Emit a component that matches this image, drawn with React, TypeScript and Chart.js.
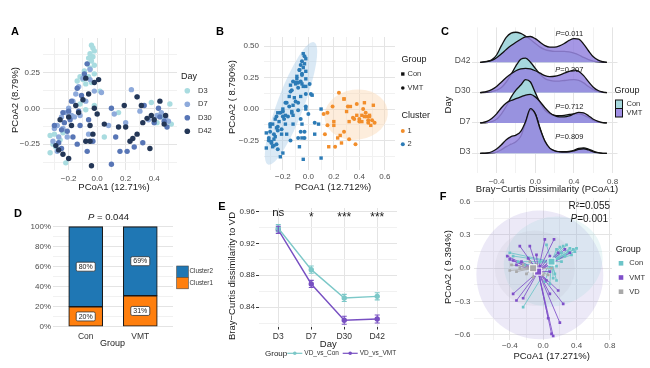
import React, { useEffect, useRef } from 'react';
import { Chart, registerables } from 'chart.js';

Chart.register(...registerables);

const FONT = '"Liberation Sans", Arial, Helvetica, sans-serif';
const INK = '#1A1A1A';
const TICKC = '#4D4D4D';

type Pt = [number, number];

// ================= Panel A / B : PCoA samples by day =================
const A_DAYS = ['D3', 'D7', 'D30', 'D42'];
const A_COLORS = ['#A9DCE0', '#8EAADB', '#5876B6', '#243757'];
const A_D3: Pt[] = [[-0.04,0.44],[-0.03,0.42],[-0.02,0.40],[-0.05,0.38],[-0.03,0.36],[-0.06,0.35],[-0.04,0.33],[-0.07,0.31],[-0.02,0.30],[-0.05,0.28],[-0.09,0.26],[-0.12,0.22],[-0.10,0.20],[-0.06,0.22],[-0.04,0.18],[-0.08,0.17],[-0.02,0.24],[0.02,0.12],[-0.14,0.19],[-0.30,-0.18],[-0.33,-0.19],[-0.31,-0.25],[-0.33,-0.31],[-0.29,-0.27],[-0.22,-0.38],[-0.24,-0.17],[-0.26,-0.22],[0.38,0.04],[0.51,0.03],[0.52,-0.11],[0.46,-0.06],[0.15,-0.03],[0.42,-0.10],[-0.08,-0.01],[0.05,-0.20],[-0.02,0.02],[-0.12,0.03]];
const A_D7: Pt[] = [[-0.05,0.27],[-0.10,0.21],[-0.13,0.15],[-0.15,0.10],[-0.17,0.05],[-0.20,0.00],[-0.22,-0.03],[-0.18,-0.05],[-0.25,-0.06],[-0.28,-0.12],[-0.24,-0.14],[-0.30,-0.14],[-0.27,-0.20],[-0.21,-0.20],[-0.31,-0.23],[-0.28,-0.30],[-0.02,0.12],[0.03,0.11],[-0.08,0.05],[-0.12,-0.05],[0.24,0.13],[0.28,0.08],[0.45,-0.03],[0.48,-0.06],[0.50,-0.09],[0.42,-0.05],[0.36,-0.08],[0.30,-0.02],[0.12,-0.04],[0.20,-0.10],[-0.06,-0.18],[0.08,-0.12],[-0.16,-0.06],[-0.05,0.20]];
const A_D30: Pt[] = [[-0.07,0.31],[-0.09,0.24],[-0.14,0.14],[-0.11,0.09],[-0.18,0.05],[-0.13,-0.02],[-0.20,-0.02],[-0.24,-0.03],[-0.19,-0.08],[-0.23,-0.10],[-0.30,-0.12],[-0.25,-0.15],[-0.21,-0.16],[-0.27,-0.24],[-0.25,-0.28],[-0.17,-0.20],[-0.14,-0.25],[-0.12,-0.12],[-0.06,-0.08],[0.10,0.00],[0.13,-0.20],[0.16,-0.30],[0.21,-0.30],[0.26,-0.27],[0.32,-0.24],[0.33,0.02],[0.40,-0.10],[0.44,-0.06],[0.47,-0.09],[0.49,-0.13],[0.43,0.00],[-0.07,-0.30],[-0.03,-0.23],[0.10,-0.39]];
const A_D42: Pt[] = [[-0.08,0.21],[-0.02,0.18],[0.01,0.20],[-0.06,0.10],[-0.10,0.06],[-0.13,-0.03],[-0.15,0.02],[-0.18,-0.12],[-0.20,-0.06],[-0.26,-0.08],[-0.29,-0.26],[-0.27,-0.29],[-0.24,-0.32],[-0.20,-0.35],[-0.08,-0.23],[-0.05,-0.23],[-0.03,-0.18],[-0.05,-0.12],[0.05,-0.11],[-0.04,-0.40],[0.00,-0.04],[0.20,-0.13],[0.15,-0.13],[0.25,-0.21],[0.28,-0.18],[0.23,-0.23],[0.31,0.02],[0.28,0.08],[0.35,-0.07],[0.38,-0.05],[0.40,-0.08],[0.44,0.05],[0.47,-0.11],[0.48,-0.05],[0.37,-0.28],[0.32,-0.10],[0.19,0.02],[-0.02,0.00]];

// Panel B: same samples; cluster 1 = right-hand group
const B_GROUPS = ['Con', 'VMT'];
const B_CLUSTERS = ['1', '2'];
const B_CLUSTER_COLORS = ['#F28E2B', '#2C7BB6'];
const B_CLUSTER1_MIN_PCOA1 = 0.11;
// ellipses: centre, semi-axes (data units), rotation (deg)
const B_ELLIPSES = [
  { cx: 0.375, cy: -0.045, rx: 0.25, ry: 0.2, rot: -8, color: 'rgba(250,214,178,0.45)' },
  { cx: -0.136, cy: 0.045, rx: 0.105, ry: 0.52, rot: 20.6, color: 'rgba(168,203,230,0.42)' },
];

// ================= Panel C : ridgelines =================
const C_ROWS = ['D3', 'D7', 'D30', 'D42'];
const C_P = ['0.809', '0.712', '0.207', '0.011'];
const C_X = [-0.57,-0.5,-0.45,-0.4,-0.35,-0.3,-0.25,-0.2,-0.15,-0.1,-0.05,0,0.05,0.1,0.15,0.2,0.25,0.3,0.35,0.4,0.45,0.5,0.55,0.6,0.65,0.7,0.74];
const C_CON_D3 = [0,0,0.01,0.04,0.12,0.22,0.3,0.38,0.56,1.0,1.42,1.3,0.82,0.38,0.16,0.08,0.05,0.05,0.06,0.1,0.16,0.18,0.14,0.07,0.02,0,0];
const C_VMT_D3 = [0,0.01,0.05,0.14,0.28,0.45,0.55,0.6,0.72,1.05,1.47,1.3,0.8,0.4,0.17,0.08,0.05,0.04,0.05,0.08,0.13,0.15,0.11,0.05,0.02,0,0];
const C_CON_D7 = [0,0.01,0.04,0.12,0.3,0.55,0.85,1.08,1.25,1.43,1.35,1.0,0.66,0.42,0.3,0.25,0.24,0.25,0.28,0.3,0.3,0.26,0.18,0.08,0.03,0.01,0];
const C_VMT_D7 = [0,0.05,0.15,0.3,0.5,0.66,0.74,0.8,0.86,0.92,0.94,0.86,0.7,0.5,0.34,0.24,0.2,0.2,0.23,0.3,0.35,0.33,0.24,0.12,0.05,0.01,0];
const C_CON_D30 = [0,0.01,0.03,0.08,0.17,0.35,0.6,0.88,1.1,1.14,1.0,0.8,0.6,0.46,0.4,0.38,0.38,0.4,0.42,0.43,0.4,0.32,0.2,0.1,0.04,0.01,0];
const C_VMT_D30 = [0,0.04,0.1,0.2,0.35,0.5,0.62,0.72,0.78,0.8,0.78,0.72,0.64,0.56,0.53,0.54,0.58,0.64,0.7,0.74,0.7,0.56,0.36,0.18,0.07,0.02,0];
const C_CON_D42 = [0,0.03,0.08,0.24,0.55,0.82,0.96,0.99,0.95,0.86,0.75,0.62,0.5,0.42,0.38,0.36,0.36,0.36,0.34,0.3,0.24,0.16,0.09,0.04,0.01,0,0];
const C_VMT_D42 = [0,0.02,0.06,0.15,0.28,0.42,0.55,0.66,0.76,0.84,0.85,0.78,0.66,0.55,0.5,0.5,0.54,0.62,0.72,0.78,0.76,0.6,0.38,0.18,0.07,0.02,0];
const C_CON_COLOR = 'rgba(166,216,221,1)';
const C_VMT_COLOR = 'rgba(150,134,224,0.86)';

// ================= Panel D : stacked bars =================
const D_GROUPS = ['Con', 'VMT'];
const D_CLUSTER1 = [20, 31];
const D_CLUSTER2 = [80, 69];
const D_BLUE = '#1F77B4';
const D_ORANGE = '#FF7F0E';

// ================= Panel E : dissimilarity to VD =================
const E_DAYS = ['D3', 'D7', 'D30', 'D42'];
const E_CON = [0.939, 0.887, 0.8515, 0.8535];
const E_CON_ERR = [0.0045, 0.0045, 0.0045, 0.0045];
const E_VMT = [0.937, 0.869, 0.8235, 0.825];
const E_VMT_ERR = [0.0045, 0.0045, 0.005, 0.005];
const E_SIG = ['ns', '*', '***', '***'];
const E_CON_COLOR = '#7CC8C8';
const E_VMT_COLOR = '#7850C2';

// ================= Panel F : PCoA with VD =================
const F_GROUPS = ['Con', 'VMT', 'VD'];
const F_COLORS = ['#6CC4C8', '#7F4FC9', '#A9A9A9'];
const F_CON: Pt[] = [[0.16,0.17],[0.24,0.20],[0.28,0.21],[0.32,0.18],[0.36,0.17],[0.40,0.18],[0.30,0.15],[0.22,0.14],[0.34,0.12],[0.26,0.11],[0.18,0.09],[0.22,0.06],[0.16,0.02],[0.14,-0.05],[0.16,-0.11],[0.12,-0.09],[0.08,-0.14],[0.02,-0.12],[-0.24,-0.35],[-0.40,0.14],[-0.36,0.11],[-0.30,0.06],[-0.22,0.03],[-0.04,0.06],[0.04,0.21],[0.08,0.02],[0.38,0.15],[0.20,0.19]];
const F_VMT: Pt[] = [[-0.28,0.20],[-0.16,0.20],[0.02,0.26],[0.13,0.26],[-0.43,0.11],[-0.40,0.08],[-0.36,0.07],[-0.32,0.03],[-0.26,0.06],[-0.18,0.09],[-0.08,0.12],[0.08,0.11],[0.18,0.14],[0.26,0.17],[0.32,0.14],[0.12,0.06],[-0.04,0.02],[0.08,-0.03],[-0.36,-0.23],[-0.32,-0.29],[-0.24,-0.27],[0.08,-0.23],[0.20,-0.49],[0.10,-0.59],[0.12,-0.61],[0.24,-0.32],[0.18,-0.20],[0.04,-0.11],[0.06,-0.45]];
const F_VD: Pt[] = [[-0.40,-0.02],[-0.32,-0.03],[-0.20,-0.05],[-0.14,0.00],[-0.08,0.03],[-0.24,0.03],[-0.12,-0.08],[0.00,-0.06],[0.06,-0.06],[-0.04,-0.03],[-0.16,0.06],[-0.38,0.03],[-0.28,0.00],[0.10,0.00]];
const F_CENTROIDS: Pt[] = [[0.10, 0.06], [-0.06, -0.03], [-0.12, 0.0]];
const F_ELLIPSES = [
  { cx: -0.04, cy: -0.06, rx: 0.76, ry: 0.58, rot: -12, color: 'rgba(160,145,215,0.20)' },
  { cx: 0.12, cy: 0.06, rx: 0.6, ry: 0.4, rot: -20, color: 'rgba(150,210,215,0.20)' },
  { cx: -0.10, cy: 0.0, rx: 0.48, ry: 0.34, rot: 0, color: 'rgba(175,175,190,0.14)' },
];

// ================= helpers =================
const W = 650, H = 368;
const YW = 40, XH = 18;
const fmtNum = (v: number, d: number) => (v < -1e-9 ? '\u2212' : '') + Math.abs(v).toFixed(d);
const toXY = (a: Pt[]) => a.map(([x, y]) => ({ x, y }));

function area(l: number, t: number, r: number, b: number) {
  return { padding: { left: l - YW, top: t, right: W - r, bottom: H - b - XH } };
}

function axis(o: any) {
  const minor: number[] = o.minor || [];
  const all = [...o.major, ...minor].sort((a, b) => a - b);
  const isMajor = (v: number) => o.major.some((m: number) => Math.abs(m - v) < 1e-9);
  return {
    type: 'linear',
    min: o.min,
    max: o.max,
    offset: false,
    afterBuildTicks: (s: any) => { s.ticks = all.map((v) => ({ value: v })); },
    afterFit: (s: any) => { if (o.axis === 'x') s.height = XH; else s.width = YW; },
    border: { display: false },
    grid: {
      display: o.grid !== false,
      offset: false,
      color: (c: any) => (c.tick && isMajor(c.tick.value) ? (o.majC || '#E4E4E4') : (o.minC || '#F1F1F1')),
      lineWidth: 1,
      drawTicks: !!o.tickMarks,
      tickLength: 2.5,
      tickColor: (c: any) => (c.tick && isMajor(c.tick.value) ? '#333333' : 'rgba(0,0,0,0)'),
    },
    ticks: {
      autoSkip: false,
      maxRotation: 0,
      minRotation: 0,
      padding: o.pad,
      labelOffset: o.labelOffset || 0,
      color: o.color || TICKC,
      font: { family: FONT, size: o.size || 8 },
      callback: (v: any) => (isMajor(Number(v)) ? o.fmt(Number(v)) : ''),
    },
  };
}

function baseOptions(ar: any, scales: any, extraPlugins: any = {}) {
  return {
    responsive: false,
    animation: false,
    devicePixelRatio: 1,
    events: [],
    layout: ar,
    scales,
    plugins: { legend: { display: false }, tooltip: { enabled: false }, title: { display: false }, ...extraPlugins },
  };
}

function text(ctx: any, s: string, x: number, y: number, o: any = {}) {
  ctx.save();
  ctx.font = `${o.italic ? 'italic ' : ''}${o.bold ? 'bold ' : ''}${o.size || 9}px ${FONT}`;
  ctx.fillStyle = o.color || INK;
  ctx.textAlign = o.align || 'center';
  ctx.textBaseline = o.baseline || 'middle';
  ctx.translate(x, y);
  if (o.rotate) ctx.rotate(o.rotate);
  ctx.fillText(s, 0, 0);
  ctx.restore();
}

function rich(ctx: any, parts: any[], x: number, y: number, o: any = {}) {
  ctx.save();
  const size = o.size || 9;
  const fonts = parts.map((p) => `${p.italic ? 'italic ' : ''}${size}px ${FONT}`);
  let total = 0;
  const ws = parts.map((p, i) => { ctx.font = fonts[i]; const w = ctx.measureText(p.t).width; total += w; return w; });
  let cx = o.align === 'left' ? x : o.align === 'right' ? x - total : x - total / 2;
  ctx.fillStyle = o.color || INK;
  ctx.textBaseline = 'middle';
  ctx.textAlign = 'left';
  parts.forEach((p, i) => { ctx.font = fonts[i]; ctx.fillText(p.t, cx, y); cx += ws[i]; });
  ctx.restore();
}

function dot(ctx: any, x: number, y: number, r: number, color: string) {
  ctx.save(); ctx.fillStyle = color; ctx.beginPath(); ctx.arc(x, y, r, 0, Math.PI * 2); ctx.fill(); ctx.restore();
}
function square(ctx: any, x: number, y: number, s: number, color: string, stroke?: string) {
  ctx.save(); ctx.fillStyle = color; ctx.fillRect(x - s / 2, y - s / 2, s, s);
  if (stroke) { ctx.strokeStyle = stroke; ctx.lineWidth = 0.8; ctx.strokeRect(x - s / 2, y - s / 2, s, s); }
  ctx.restore();
}

function drawEllipses(chart: any, list: any[]) {
  const { ctx, chartArea: ca, scales } = chart;
  const sx = scales.x, sy = scales.y;
  const pxX = Math.abs(sx.getPixelForValue(1) - sx.getPixelForValue(0));
  const pxY = Math.abs(sy.getPixelForValue(1) - sy.getPixelForValue(0));
  ctx.save();
  ctx.beginPath(); ctx.rect(ca.left, ca.top, ca.right - ca.left, ca.bottom - ca.top); ctx.clip();
  list.forEach((e) => {
    ctx.fillStyle = e.color;
    ctx.beginPath();
    ctx.ellipse(sx.getPixelForValue(e.cx), sy.getPixelForValue(e.cy), e.rx * pxX, e.ry * pxY, (e.rot * Math.PI) / 180, 0, Math.PI * 2);
    ctx.fill();
  });
  ctx.restore();
}

function ChartCanvas({ make }: { make: () => any }) {
  const ref = useRef<HTMLCanvasElement | null>(null);
  useEffect(() => {
    const chart = new Chart(ref.current as HTMLCanvasElement, make());
    return () => chart.destroy();
  }, []);
  return <canvas ref={ref} width={W} height={H} style={{ position: 'absolute', left: 0, top: 0, width: W, height: H }} />;
}

// ================= Panel A =================
function makeA() {
  const sets = [A_D3, A_D7, A_D30, A_D42];
  return {
    type: 'scatter',
    data: {
      datasets: sets.map((s, i) => ({
        data: toXY(s), order: 4 - i, backgroundColor: A_COLORS[i], borderWidth: 0, pointRadius: 2.7, pointHoverRadius: 2.7,
      })),
    },
    options: baseOptions(area(43, 38, 177, 170), {
      x: axis({ axis: 'x', min: -0.38, max: 0.56, major: [-0.2, 0, 0.2, 0.4], minor: [-0.3, -0.1, 0.1, 0.3, 0.5], fmt: (v: number) => fmtNum(v, 1), pad: 3.5 }),
      y: axis({ axis: 'y', min: -0.43, max: 0.49, major: [-0.25, 0, 0.25], minor: [-0.375, -0.125, 0.125, 0.375], fmt: (v: number) => fmtNum(v, 2), pad: 3 }),
    }),
    plugins: [{
      id: 'panelA',
      afterDraw(ch: any) {
        const c = ch.ctx;
        text(c, 'A', 15, 32, { size: 11, bold: true, color: '#000' });
        text(c, 'PCoA2 (8.79%)', 15.5, 100, { size: 9.5, rotate: -Math.PI / 2 });
        text(c, 'PCoA1 (12.71%)', 114, 187, { size: 9.5 });
        text(c, 'Day', 181, 77, { size: 9, align: 'left' });
        A_DAYS.forEach((d, i) => {
          const y = 90.7 + i * 13.5;
          dot(c, 187.3, y, 2.8, A_COLORS[i]);
          text(c, d, 198, y, { size: 7.5, align: 'left', color: '#333' });
        });
      },
    }],
  };
}

// ================= Panel B =================
function makeB() {
  const all = [...A_D3, ...A_D7, ...A_D30, ...A_D42];
  const ds: any[] = [];
  B_CLUSTERS.forEach((cl, ci) => {
    B_GROUPS.forEach((g, gi) => {
      const pts = all.filter((p, idx) => (ci === 0 ? p[0] > B_CLUSTER1_MIN_PCOA1 : p[0] <= B_CLUSTER1_MIN_PCOA1) && idx % 2 === gi);
      ds.push({
        data: toXY(pts), backgroundColor: B_CLUSTER_COLORS[ci], borderWidth: 0,
        pointStyle: gi === 0 ? 'rect' : 'circle', pointRadius: gi === 0 ? 2.4 : 2.0, pointHoverRadius: 2.0,
      });
    });
  });
  return {
    type: 'scatter',
    data: { datasets: ds },
    options: baseOptions(area(264, 37, 395, 170), {
      x: axis({ axis: 'x', min: -0.348, max: 0.68, major: [-0.2, 0, 0.2, 0.4, 0.6], minor: [-0.3, -0.1, 0.1, 0.3, 0.5], fmt: (v: number) => fmtNum(v, 1), pad: 2 }),
      y: axis({ axis: 'y', min: -0.485, max: 0.573, major: [-0.25, 0, 0.25, 0.5], minor: [-0.375, -0.125, 0.125, 0.375], fmt: (v: number) => fmtNum(v, 2), pad: 5 }),
    }),
    plugins: [{
      id: 'panelB',
      beforeDatasetsDraw(ch: any) { drawEllipses(ch, B_ELLIPSES); },
      afterDraw(ch: any) {
        const c = ch.ctx;
        text(c, 'B', 220, 32, { size: 11, bold: true, color: '#000' });
        text(c, 'PCoA2 ( 8.790%)', 232.5, 97, { size: 9.5, rotate: -Math.PI / 2 });
        text(c, 'PCoA1 (12.712%)', 333, 187, { size: 9.5 });
        text(c, 'Group', 401.5, 59.3, { size: 9, align: 'left' });
        square(c, 402.8, 74, 3.4, '#111');
        text(c, B_GROUPS[0], 407.5, 74, { size: 7.5, align: 'left', color: '#333' });
        dot(c, 402.8, 88, 1.8, '#111');
        text(c, B_GROUPS[1], 407.5, 88, { size: 7.5, align: 'left', color: '#333' });
        text(c, 'Cluster', 401.5, 116, { size: 9, align: 'left' });
        B_CLUSTERS.forEach((cl, i) => {
          const y = 131 + i * 13.3;
          dot(c, 402.8, y, 2.0, B_CLUSTER_COLORS[i]);
          text(c, cl, 407.5, y, { size: 7.5, align: 'left', color: '#333' });
        });
      },
    }],
  };
}

// ================= Panel C =================
function makeC() {
  const con = [C_CON_D3, C_CON_D7, C_CON_D30, C_CON_D42];
  const vmt = [C_VMT_D3, C_VMT_D7, C_VMT_D30, C_VMT_D42];
  const ds: any[] = [];
  let k = 0;
  for (let r = 3; r >= 0; r--) {
    const base = r + 1;
    [[con[r], C_CON_COLOR], [vmt[r], C_VMT_COLOR]].forEach(([h, col]: any) => {
      ds.push({
        type: 'line',
        data: C_X.map((x, i) => ({ x, y: base + h[i] })),
        order: 100 - k,
        borderColor: '#111',
        borderWidth: 1.3,
        backgroundColor: col,
        fill: { value: base },
        pointRadius: 0,
        cubicInterpolationMode: 'monotone',
      });
      k++;
    });
  }
  return {
    type: 'line',
    data: { datasets: ds },
    options: baseOptions(area(472.4, 27.4, 617.5, 173), {
      x: axis({ axis: 'x', min: -0.65, max: 0.85, major: [-0.4, 0, 0.4, 0.8], minor: [-0.6, -0.2, 0.2, 0.6], fmt: (v: number) => fmtNum(v, 1), pad: 4 }),
      y: axis({ axis: 'y', min: 0.35, max: 5.15, major: [1, 2, 3, 4], minor: [], fmt: (v: number) => C_ROWS[Math.round(v) - 1], pad: 2, size: 8.5, labelOffset: -1.5 }),
    }, { filler: { drawTime: 'beforeDatasetDraw' } }),
    plugins: [{
      id: 'panelC',
      afterDraw(ch: any) {
        const c = ch.ctx;
        const sx = ch.scales.x, sy = ch.scales.y;
        text(c, 'C', 445, 32, { size: 11, bold: true, color: '#000' });
        text(c, 'Day', 448, 105, { size: 9.5, rotate: -Math.PI / 2 });
        text(c, 'Bray\u2212Curtis Dissimilarity (PCoA1)', 547, 189, { size: 9.5 });
        const off = [0.55, 0.53, 0.74, 0.92];
        C_P.forEach((p, i) => {
          rich(c, [{ t: 'P', italic: true }, { t: '=' + p }], sx.getPixelForValue(0.352), sy.getPixelForValue(i + 1 + off[i]), { size: 7.5 });
        });
        text(c, 'Group', 614.5, 90.7, { size: 9, align: 'left' });
        c.save();
        c.lineWidth = 1; c.strokeStyle = '#111';
        c.fillStyle = '#A6D8DD'; c.fillRect(615.5, 100, 7, 8.5); c.strokeRect(615.5, 100, 7, 8.5);
        c.fillStyle = '#A08FE4'; c.fillRect(615.5, 108.5, 7, 8.5); c.strokeRect(615.5, 108.5, 7, 8.5);
        c.restore();
        text(c, 'Con', 626.5, 104.3, { size: 7.5, align: 'left', color: '#333' });
        text(c, 'VMT', 626.5, 113, { size: 7.5, align: 'left', color: '#333' });
      },
    }],
  };
}

// ================= Panel D =================
function makeD() {
  const mk = (vals: number[], col: string) => ({
    data: vals.map((v, i) => ({ x: i + 1, y: v })),
    backgroundColor: col, borderColor: '#1A1A1A', borderWidth: 1.1, borderSkipped: false, barThickness: 34,
  });
  return {
    type: 'bar',
    data: { datasets: [mk(D_CLUSTER1, D_ORANGE), mk(D_CLUSTER2, D_BLUE)] },
    options: baseOptions(area(53, 221.7, 173, 331.7), {
      x: { ...axis({ axis: 'x', min: 0.4, max: 2.6, major: [1, 2], minor: [], fmt: (v: number) => D_GROUPS[Math.round(v) - 1], pad: 0, size: 8.5, color: '#333', grid: false }), stacked: true, offset: false },
      y: { ...axis({ axis: 'y', min: -5, max: 105, major: [0, 20, 40, 60, 80, 100], minor: [10, 30, 50, 70, 90], fmt: (v: number) => Math.round(v) + '%', pad: 2, size: 8 }), stacked: true },
    }),
    plugins: [{
      id: 'panelD',
      afterDatasetsDraw(ch: any) {
        const c = ch.ctx;
        ch.data.datasets.forEach((d: any, di: number) => {
          ch.getDatasetMeta(di).data.forEach((el: any, i: number) => {
            const y = (el.y + el.base) / 2;
            const label = d.data[i].y + '%';
            c.save();
            c.font = `7px ${FONT}`;
            const w = c.measureText(label).width + 5;
            c.fillStyle = '#fff'; c.strokeStyle = '#333'; c.lineWidth = 0.8;
            c.beginPath();
            if (c.roundRect) c.roundRect(el.x - w / 2, y - 4.5, w, 9, 1.5); else c.rect(el.x - w / 2, y - 4.5, w, 9);
            c.fill(); c.stroke();
            c.restore();
            text(c, label, el.x, y + 0.3, { size: 7, color: '#222' });
          });
        });
      },
      afterDraw(ch: any) {
        const c = ch.ctx;
        text(c, 'D', 18, 214, { size: 11, bold: true, color: '#000' });
        rich(c, [{ t: 'P', italic: true }, { t: ' = 0.044' }], 108.5, 217.3, { size: 9.5 });
        text(c, 'Group', 112.5, 343.5, { size: 9 });
        c.save();
        c.strokeStyle = '#444'; c.lineWidth = 0.6;
        c.fillStyle = D_BLUE; c.fillRect(176.7, 266, 11.6, 11.3); c.strokeRect(176.7, 266, 11.6, 11.3);
        c.fillStyle = D_ORANGE; c.fillRect(176.7, 277.3, 11.6, 11.5); c.strokeRect(176.7, 277.3, 11.6, 11.5);
        c.restore();
        text(c, 'Cluster2', 189.5, 271.7, { size: 6.3, align: 'left', color: '#333' });
        text(c, 'Cluster1', 189.5, 283, { size: 6.3, align: 'left', color: '#333' });
      },
    }],
  };
}

// ================= Panel E =================
function makeE() {
  const mk = (vals: number[], errs: number[], col: string) => ({
    data: vals.map((v, i) => ({ x: i + 1, y: v })),
    errs,
    borderColor: col, backgroundColor: col, borderWidth: 1.4, pointRadius: 2, pointHoverRadius: 2, tension: 0,
  });
  return {
    type: 'line',
    data: { datasets: [mk(E_CON, E_CON_ERR, E_CON_COLOR), mk(E_VMT, E_VMT_ERR, E_VMT_COLOR)] },
    options: baseOptions(area(258.5, 208, 397, 327), {
      x: axis({ axis: 'x', min: 0.4, max: 4.6, major: [1, 2, 3, 4], minor: [], fmt: (v: number) => E_DAYS[Math.round(v) - 1], pad: 2, size: 8.5, color: '#333', tickMarks: true }),
      y: axis({ axis: 'y', min: 0.815, max: 0.9644, major: [0.84, 0.88, 0.92, 0.96], minor: [0.82, 0.86, 0.9, 0.94], fmt: (v: number) => v.toFixed(2), pad: 1, size: 8, color: '#333', tickMarks: true }),
    }),
    plugins: [{
      id: 'panelE',
      afterDatasetsDraw(ch: any) {
        const c = ch.ctx;
        const sy = ch.scales.y;
        ch.data.datasets.forEach((d: any, di: number) => {
          ch.getDatasetMeta(di).data.forEach((el: any, i: number) => {
            const v = d.data[i].y, e = d.errs[i];
            const y1 = sy.getPixelForValue(v - e), y2 = sy.getPixelForValue(v + e);
            c.save(); c.strokeStyle = d.borderColor; c.lineWidth = 1.1;
            c.beginPath();
            c.moveTo(el.x, y1); c.lineTo(el.x, y2);
            c.moveTo(el.x - 2.5, y1); c.lineTo(el.x + 2.5, y1);
            c.moveTo(el.x - 2.5, y2); c.lineTo(el.x + 2.5, y2);
            c.stroke(); c.restore();
          });
        });
      },
      afterDraw(ch: any) {
        const c = ch.ctx;
        const sx = ch.scales.x;
        text(c, 'E', 222, 207, { size: 11, bold: true, color: '#000' });
        text(c, 'Bray\u2212Curtis dissimilarity to VD', 232, 276, { size: 9.5, rotate: -Math.PI / 2 });
        text(c, 'Day', 328.3, 344.3, { size: 9.5 });
        E_SIG.forEach((s, i) => {
          const x = sx.getPixelForValue(i + 1);
          if (s === 'ns') text(c, s, x, 213, { size: 11.5 });
          else text(c, s, x, 217.5, { size: 12 });
        });
        text(c, 'Group', 265, 353.3, { size: 8, align: 'left' });
        const items = [['VD_vs_Con', E_CON_COLOR, 287.3], ['VD_vs_VMT', E_VMT_COLOR, 342.7]];
        items.forEach(([lab, col, x]: any) => {
          c.save(); c.strokeStyle = col; c.lineWidth = 1.2;
          c.beginPath(); c.moveTo(x, 353.3); c.lineTo(x + 15, 353.3); c.stroke(); c.restore();
          dot(c, x + 7.5, 353.3, 1.8, col);
          text(c, lab, x + 17, 353.3, { size: 6.5, align: 'left', color: '#333' });
        });
      },
    }],
  };
}

// ================= Panel F =================
function makeF() {
  const sets = [F_CON, F_VMT, F_VD];
  const ds: any[] = sets.map((s, i) => ({
    data: toXY(s), backgroundColor: F_COLORS[i], borderWidth: 0, pointStyle: 'rect', pointRadius: 1.9, pointHoverRadius: 1.9, order: 5 - i,
  }));
  ds.push({
    data: toXY(F_CENTROIDS), backgroundColor: F_COLORS, borderColor: '#ffffff', borderWidth: 1, pointStyle: 'rect', pointRadius: 5, pointHoverRadius: 5, order: 0,
  });
  return {
    type: 'scatter',
    data: { datasets: ds },
    options: baseOptions(area(473.5, 198, 612, 340), {
      x: axis({ axis: 'x', min: -0.835, max: 0.825, major: [-0.4, 0, 0.4, 0.8], minor: [-0.6, -0.2, 0.2, 0.6], fmt: (v: number) => fmtNum(v, 1), pad: 1, size: 8 }),
      y: axis({ axis: 'y', min: -0.646, max: 0.633, major: [-0.6, -0.3, 0, 0.3, 0.6], minor: [-0.45, -0.15, 0.15, 0.45], fmt: (v: number) => fmtNum(v, 1), pad: 3, size: 8 }),
    }),
    plugins: [{
      id: 'panelF',
      beforeDatasetsDraw(ch: any) {
        drawEllipses(ch, F_ELLIPSES);
        const c = ch.ctx, sx = ch.scales.x, sy = ch.scales.y;
        sets.forEach((s, i) => {
          const [cx, cy] = F_CENTROIDS[i];
          c.save(); c.strokeStyle = F_COLORS[i]; c.globalAlpha = 0.85; c.lineWidth = 1;
          c.beginPath();
          s.forEach(([x, y]) => {
            c.moveTo(sx.getPixelForValue(cx), sy.getPixelForValue(cy));
            c.lineTo(sx.getPixelForValue(x), sy.getPixelForValue(y));
          });
          c.stroke(); c.restore();
        });
      },
      afterDraw(ch: any) {
        const c = ch.ctx;
        text(c, 'F', 443, 197, { size: 11, bold: true, color: '#000' });
        text(c, 'PCoA2 ( 9.394%)', 448.3, 267, { size: 9.5, rotate: -Math.PI / 2 });
        text(c, 'PCoA1 (17.271%)', 551.7, 356.7, { size: 9.5 });
        text(c, 'R\u00B2=0.055', 589.3, 206.7, { size: 10 });
        rich(c, [{ t: 'P', italic: true }, { t: '=0.001' }], 589.3, 219.3, { size: 10 });
        text(c, 'Group', 615.7, 250, { size: 9, align: 'left' });
        F_GROUPS.forEach((g, i) => {
          const y = 263.3 + i * 14.2;
          square(c, 621, y, 4.6, F_COLORS[i]);
          text(c, g, 629.3, y, { size: 7.5, align: 'left', color: '#333' });
        });
      },
    }],
  };
}

export default function App() {
  return (
    <div style={{ position: 'absolute', left: 0, top: 0, width: W, height: H, background: '#ffffff', overflow: 'hidden' }}>
      <ChartCanvas make={makeA} />
      <ChartCanvas make={makeB} />
      <ChartCanvas make={makeC} />
      <ChartCanvas make={makeD} />
      <ChartCanvas make={makeE} />
      <ChartCanvas make={makeF} />
    </div>
  );
}
